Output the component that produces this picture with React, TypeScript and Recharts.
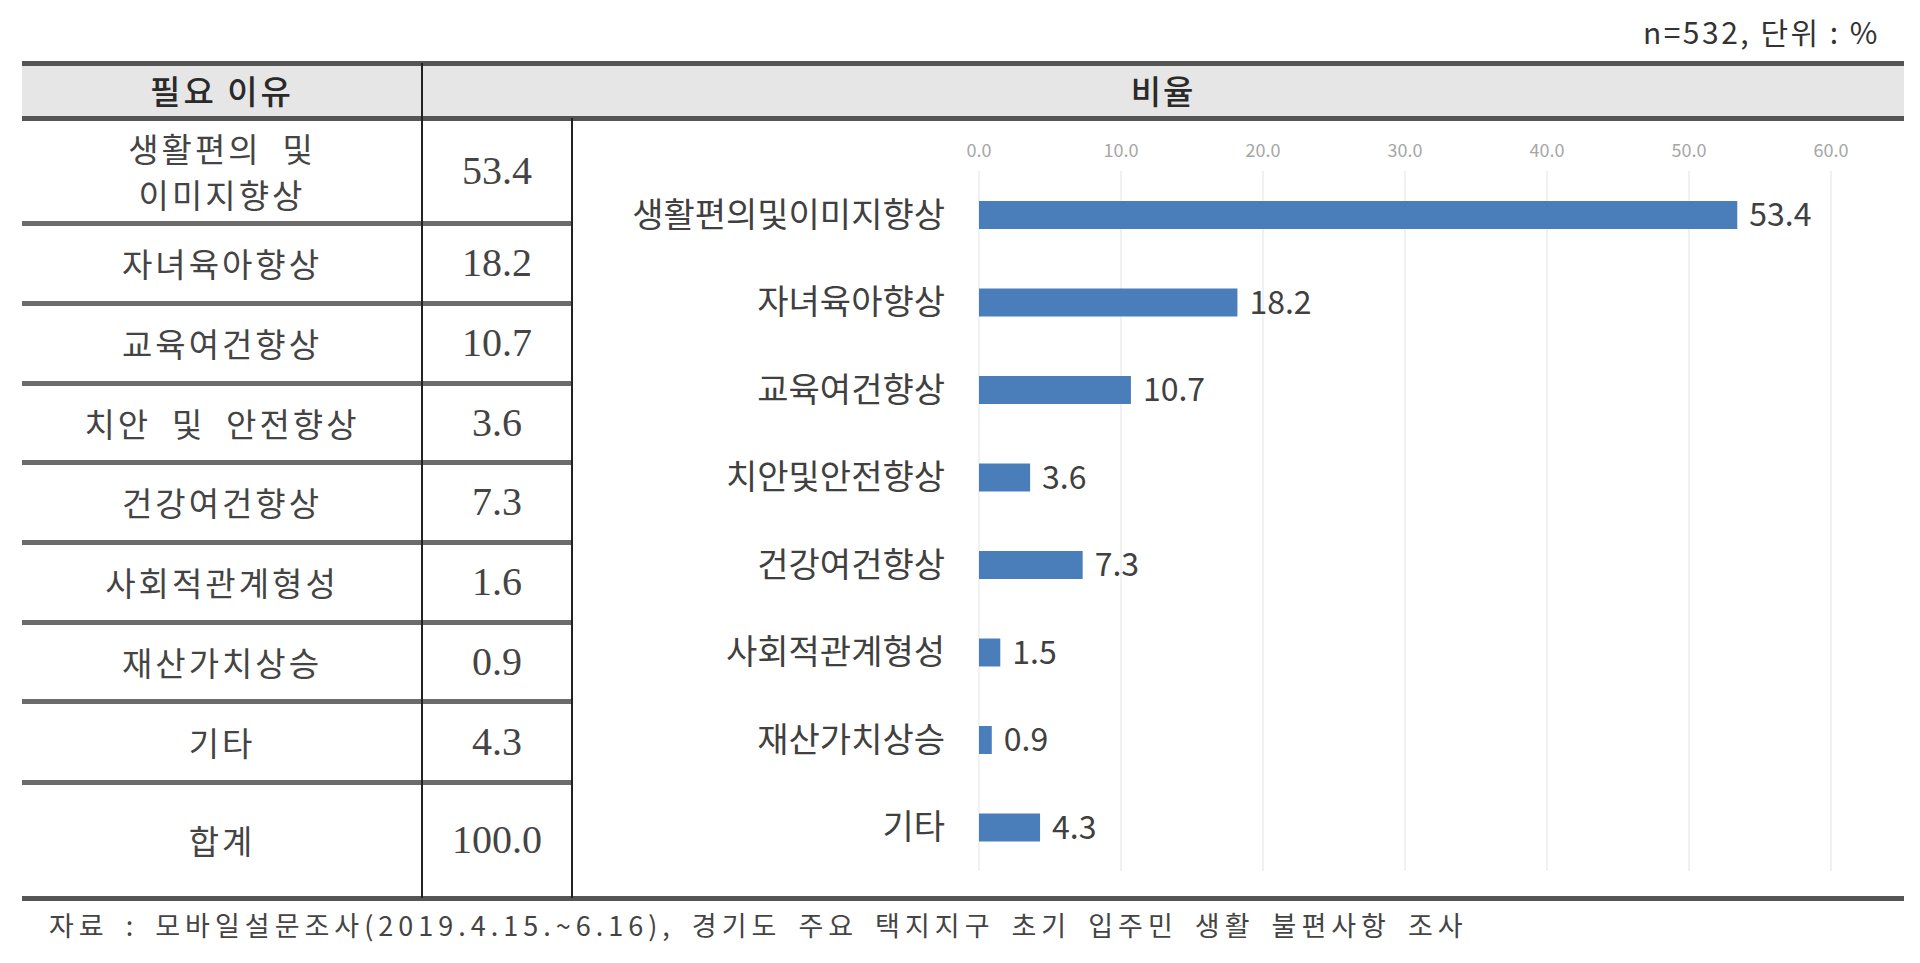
import { Bar, BarChart, CartesianGrid, LabelList, XAxis, YAxis } from "recharts";

// 필요 이유 (chart labels) and 비율 values as drawn in the bar chart
const reasons = [
  "생활편의및이미지향상",
  "자녀육아향상",
  "교육여건향상",
  "치안및안전향상",
  "건강여건향상",
  "사회적관계형성",
  "재산가치상승",
  "기타",
];
const shares = [53.4, 18.2, 10.7, 3.6, 7.3, 1.5, 0.9, 4.3];

// table column, as printed (the table shows 1.6 where the chart shows 1.5)
const tableReasons = [
  ["생활편의 및", "이미지향상"],
  ["자녀육아향상"],
  ["교육여건향상"],
  ["치안 및 안전향상"],
  ["건강여건향상"],
  ["사회적관계형성"],
  ["재산가치상승"],
  ["기타"],
  ["합계"],
];
const tableValues = ["53.4", "18.2", "10.7", "3.6", "7.3", "1.6", "0.9", "4.3", "100.0"];

const ticks = [0, 10, 20, 30, 40, 50, 60];

const data = reasons.map((name, i) => ({ name, value: shares[i] }));

// layout of the table frame
const rowEdges = [118, 223, 303, 383, 462, 542, 622, 701, 782, 898];
const LEFT = 22;
const RIGHT = 1904;
const COL1 = 422;
const COL2 = 572;

const KR = "'Noto Sans CJK KR', 'Noto Sans', sans-serif";
const NUM = "'Liberation Serif', 'Noto Sans CJK KR', serif";

function HLine({ y, x1, x2, h, color }: { y: number; x1: number; x2: number; h: number; color: string }) {
  return (
    <div
      style={{
        position: "absolute",
        left: x1,
        top: y - h / 2,
        width: x2 - x1,
        height: h,
        background: color,
      }}
    />
  );
}

function VLine({ x, y1, y2 }: { x: number; y1: number; y2: number }) {
  return (
    <div
      style={{
        position: "absolute",
        left: x - 1,
        top: y1,
        width: 2,
        height: y2 - y1,
        background: "#222",
      }}
    />
  );
}

export default function App() {
  return (
    <div
      style={{
        position: "absolute",
        left: 0,
        top: 0,
        width: 1920,
        height: 963,
        background: "#fff",
        fontFamily: KR,
        color: "#404040",
      }}
    >
      {/* unit note */}
      <div
        style={{
          position: "absolute",
          right: 40,
          top: 11,
          fontSize: 30,
          letterSpacing: 2.5,
          lineHeight: "40px",
          color: "#333",
        }}
      >
        n=532, 단위 : %
      </div>

      {/* header band */}
      <div
        style={{
          position: "absolute",
          left: LEFT,
          top: 63,
          width: RIGHT - LEFT,
          height: 55,
          background: "#e6e6e6",
        }}
      />
      <div
        style={{
          position: "absolute",
          left: LEFT,
          top: 63,
          width: COL1 - LEFT,
          height: 55,
          lineHeight: "55px",
          textAlign: "center",
          fontSize: 33,
          fontWeight: 500,
          color: "#2a2a2a",
          letterSpacing: 3,
        }}
      >
        필요 이유
      </div>
      <div
        style={{
          position: "absolute",
          left: COL1,
          top: 63,
          width: RIGHT - COL1,
          height: 55,
          lineHeight: "55px",
          textAlign: "center",
          fontSize: 33,
          fontWeight: 500,
          color: "#2a2a2a",
          letterSpacing: 2,
        }}
      >
        비율
      </div>

      {/* table rows */}
      {tableReasons.map((lines, i) => {
        const top = rowEdges[i];
        const h = rowEdges[i + 1] - top;
        return (
          <div key={i}>
            <div
              style={{
                position: "absolute",
                left: LEFT,
                top,
                width: COL1 - LEFT,
                height: h,
                display: "flex",
                flexDirection: "column",
                justifyContent: "center",
                alignItems: "center",
                fontSize: 33,
                letterSpacing: 3,
                lineHeight: "46px",
                color: "#444",
              }}
            >
              {lines.map((l) => (
                <div key={l} style={{ whiteSpace: "pre" }}>
                  {l.replace(/ /g, "  ")}
                </div>
              ))}
            </div>
            <div
              style={{
                position: "absolute",
                left: COL1,
                top,
                width: COL2 - COL1,
                height: h,
                lineHeight: `${h}px`,
                textAlign: "center",
                fontSize: 40,
                fontFamily: NUM,
                color: "#444",
              }}
            >
              {tableValues[i]}
            </div>
          </div>
        );
      })}

      {/* frame lines */}
      <HLine y={63} x1={LEFT} x2={RIGHT} h={5} color="#555" />
      <HLine y={118} x1={LEFT} x2={RIGHT} h={5} color="#555" />
      {rowEdges.slice(1, -1).map((y) => (
        <HLine key={y} y={y} x1={LEFT} x2={COL2} h={5} color="#6b6b6b" />
      ))}
      <HLine y={898} x1={LEFT} x2={RIGHT} h={5} color="#555" />
      <VLine x={COL1} y1={63} y2={898} />
      <VLine x={COL2} y1={118} y2={898} />

      {/* bar chart */}
      <div style={{ position: "absolute", left: COL2 + 1, top: 121, width: 1331, height: 774 }}>
        <BarChart
          width={1331}
          height={774}
          data={data}
          layout="vertical"
          margin={{ top: 0, right: 73, bottom: 24, left: 0 }}
        >
          <CartesianGrid horizontal={false} stroke="#e3e3e3" />
          <XAxis
            type="number"
            orientation="top"
            domain={[0, 60]}
            ticks={ticks}
            height={50}
            axisLine={false}
            tickLine={false}
            tickMargin={8}
            tick={{ fill: "#a6a6a6", fontSize: 18 }}
            tickFormatter={(v) => Number(v).toFixed(1)}
          />
          <YAxis
            type="category"
            dataKey="name"
            width={406}
            axisLine={false}
            tickLine={false}
            tickMargin={28}
            tick={{ fill: "#404040", fontSize: 34 }}
          />
          <Bar dataKey="value" fill="#4a7ebb" barSize={28} isAnimationActive={false}>
            <LabelList
              dataKey="value"
              position="right"
              offset={12}
              fill="#404040"
              fontSize={32}
              formatter={(v) => Number(v).toFixed(1)}
            />
          </Bar>
        </BarChart>
      </div>

      {/* source */}
      <div
        style={{
          position: "absolute",
          left: 49,
          top: 905,
          fontSize: 27,
          letterSpacing: 5,
          wordSpacing: 6,
          lineHeight: "40px",
          color: "#444",
          whiteSpace: "nowrap",
        }}
      >
        자료 : 모바일설문조사(2019.4.15.~6.16), 경기도 주요 택지지구 초기 입주민 생활 불편사항 조사
      </div>
    </div>
  );
}
